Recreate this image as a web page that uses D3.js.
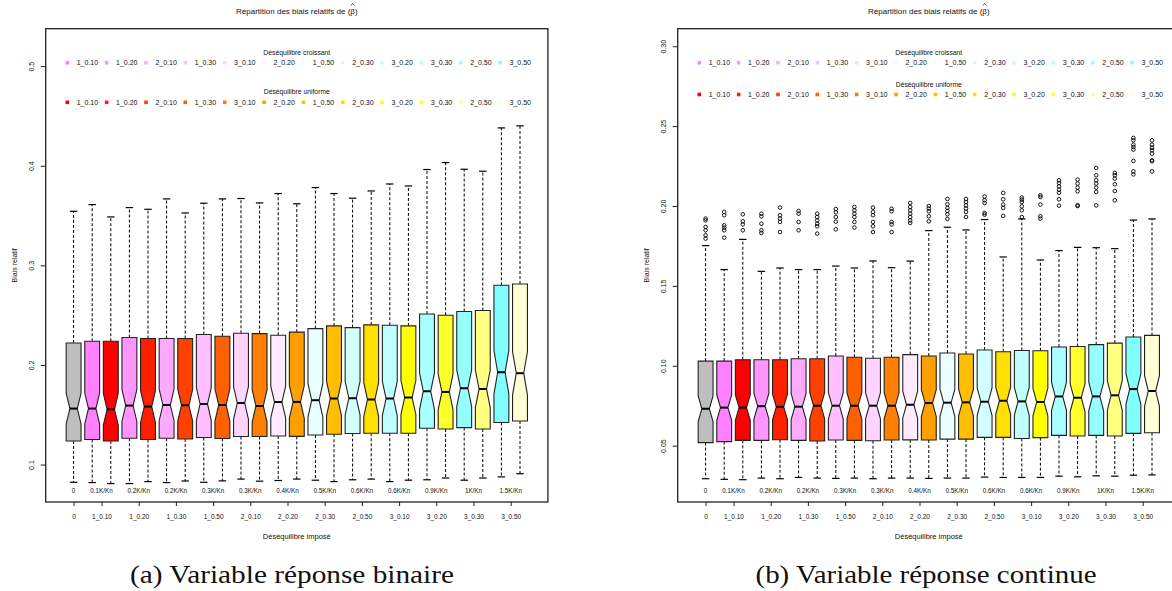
<!DOCTYPE html>
<html>
<head>
<meta charset="utf-8">
<script src="https://cdn.jsdelivr.net/npm/d3@7"></script>
<style>
  body { margin: 0; background: #fff; }
  svg text { font-family: "Liberation Sans", Arial, sans-serif; fill: #111; }
</style>
</head>
<body>
<svg id="chart" width="1172" height="591"></svg>
<script>
// Box colours: reference box, then (croissant, uniforme) pairs
var boxColors = ["#BEBEBE",
  "#FF80FF", "#FF0000", "#FF95FF", "#FF2000", "#FFAAFF", "#FF4000",
  "#FFBFFF", "#FF6000", "#FFD4FF", "#FF8000", "#FFEAFF", "#FF9F00",
  "#EAFFFF", "#FFBF00", "#D4FFFF", "#FFDF00", "#BFFFFF", "#FFFF00",
  "#AAFFFF", "#FFFF2A", "#95FFFF", "#FFFF80", "#80FFFF", "#FFFFD5"];

var legendLabels = ["1_0.10", "1_0.20", "2_0.10", "1_0.30", "3_0.10", "2_0.20",
  "1_0.50", "2_0.30", "3_0.20", "3_0.30", "2_0.50", "3_0.50"];
var legendCroissant = ["#FF80FF", "#FF95FF", "#FFAAFF", "#FFBFFF", "#FFD4FF", "#FFEAFF",
  "#EAFFFF", "#D4FFFF", "#BFFFFF", "#AAFFFF", "#95FFFF", "#80FFFF"];
var legendUniforme = ["#FF0000", "#FF2000", "#FF4000", "#FF6000", "#FF8000", "#FF9F00",
  "#FFBF00", "#FFDF00", "#FFFF00", "#FFFF2A", "#FFFF80", "#FFFFD5"];

var tickLabels = ["0", "1_0.10", "1_0.20", "1_0.30", "1_0.50", "2_0.10", "2_0.20",
  "2_0.30", "2_0.50", "3_0.10", "3_0.20", "3_0.30", "3_0.50"];
var ratioLabels = ["0", "0.1K/Kn", "0.2K/Kn", "0.2K/Kn", "0.3K/Kn", "0.3K/Kn", "0.4K/Kn",
  "0.5K/Kn", "0.6K/Kn", "0.6K/Kn", "0.9K/Kn", "1K/Kn", "1.5K/Kn"];

// (a) variable réponse binaire
var binLow = [0.0822, 0.0819, 0.0809, 0.0809, 0.0829, 0.0819, 0.0835, 0.0822, 0.0836, 0.0854, 0.0833, 0.0840, 0.0854,
  0.0843, 0.0829, 0.0847, 0.0854, 0.0829, 0.0843, 0.0847, 0.0865, 0.0843, 0.0865, 0.0876, 0.0908];
var binQ1 = [0.1237, 0.1251, 0.1237, 0.1264, 0.1251, 0.1264, 0.1257, 0.1271, 0.1261, 0.1281, 0.1281, 0.1287, 0.1283,
  0.1297, 0.1304, 0.1311, 0.1314, 0.1314, 0.1314, 0.1364, 0.1357, 0.1371, 0.1357, 0.1422, 0.1438];
var binMed = [0.1562, 0.1562, 0.1555, 0.1592, 0.1582, 0.1598, 0.1595, 0.1608, 0.1598, 0.1618, 0.1588, 0.1628, 0.1629,
  0.1646, 0.1663, 0.1666, 0.1653, 0.1663, 0.1673, 0.1736, 0.1729, 0.1766, 0.1759, 0.1927, 0.1917];
var binQ3 = [0.2221, 0.2238, 0.2238, 0.2275, 0.2265, 0.2265, 0.2265, 0.2305, 0.2288, 0.2318, 0.2315, 0.2298, 0.2330,
  0.2365, 0.2392, 0.2375, 0.2402, 0.2399, 0.2392, 0.2512, 0.2499, 0.2536, 0.2546, 0.2800, 0.2813];
var binHigh = [0.3543, 0.3610, 0.3486, 0.3580, 0.3563, 0.3667, 0.3526, 0.3624, 0.3667, 0.3671, 0.3627, 0.3721, 0.3618,
  0.3781, 0.3721, 0.3674, 0.3747, 0.3817, 0.3797, 0.3962, 0.4032, 0.3965, 0.3945, 0.4380, 0.4400];
var binOut = [];

// (b) variable réponse continue
var conLow = [0.0293, 0.0289, 0.0287, 0.0297, 0.0293, 0.0301, 0.0297, 0.0295, 0.0297, 0.0293, 0.0297, 0.0297, 0.0295,
  0.0297, 0.0297, 0.0303, 0.0301, 0.0301, 0.0301, 0.0309, 0.0305, 0.0311, 0.0309, 0.0315, 0.0317];
var conQ1 = [0.0519, 0.0525, 0.0533, 0.0533, 0.0537, 0.0533, 0.0529, 0.0535, 0.0533, 0.0531, 0.0535, 0.0536, 0.0535,
  0.0541, 0.0541, 0.0552, 0.0552, 0.0545, 0.0550, 0.0564, 0.0560, 0.0564, 0.0560, 0.0577, 0.0581];
var conMed = [0.0731, 0.0738, 0.0738, 0.0747, 0.0743, 0.0744, 0.0750, 0.0750, 0.0750, 0.0750, 0.0750, 0.0756, 0.0767,
  0.0769, 0.0771, 0.0775, 0.0781, 0.0777, 0.0773, 0.0808, 0.0800, 0.0808, 0.0815, 0.0854, 0.0842];
var conQ3 = [0.1029, 0.1029, 0.1038, 0.1038, 0.1038, 0.1044, 0.1044, 0.1061, 0.1053, 0.1047, 0.1053, 0.1070, 0.1061,
  0.1080, 0.1074, 0.1099, 0.1088, 0.1096, 0.1094, 0.1117, 0.1121, 0.1132, 0.1142, 0.1180, 0.1190];
var conHigh = [0.1752, 0.1602, 0.1791, 0.1591, 0.1612, 0.1602, 0.1602, 0.1624, 0.1612, 0.1656, 0.1614, 0.1655, 0.1846,
  0.1867, 0.1850, 0.1915, 0.1681, 0.1919, 0.1662, 0.1721, 0.1741, 0.1739, 0.1733, 0.1912, 0.1919];
var conOut = [
  [0.1921, 0.1910, 0.1869, 0.1848, 0.1817, 0.1796],
  [0.1963, 0.1942, 0.1879, 0.1865, 0.1848, 0.1802],
  [0.1948, 0.1904, 0.1885, 0.1848],
  [0.1952, 0.1935, 0.1889, 0.1848, 0.1831],
  [0.1990, 0.1942, 0.1921, 0.1900, 0.1837],
  [0.1969, 0.1952, 0.1900, 0.1848],
  [0.1952, 0.1931, 0.1910, 0.1889, 0.1873, 0.1827],
  [0.1981, 0.1961, 0.1931, 0.1902, 0.1854],
  [0.1994, 0.1973, 0.1952, 0.1931, 0.1900, 0.1865],
  [0.1990, 0.1963, 0.1942, 0.1900, 0.1873, 0.1837],
  [0.1983, 0.1967, 0.1900, 0.1885, 0.1837],
  [0.2019, 0.1994, 0.1973, 0.1952, 0.1931, 0.1910, 0.1894],
  [0.2000, 0.1984, 0.1967, 0.1936, 0.1904],
  [0.2044, 0.2011, 0.1988, 0.1969, 0.1948, 0.1919],
  [0.2044, 0.2025, 0.2004, 0.1984, 0.1963, 0.1931],
  [0.2059, 0.2036, 0.2019, 0.1956, 0.1946],
  [0.2082, 0.2042, 0.2009, 0.1988, 0.1938],
  [0.2053, 0.2040, 0.2025, 0.1998, 0.1973, 0.1931],
  [0.2067, 0.2056, 0.2009, 0.1936, 0.1921],
  [0.2161, 0.2144, 0.2123, 0.2102, 0.2083, 0.2042, 0.2002],
  [0.2165, 0.2140, 0.2115, 0.2092, 0.2005, 0.2000],
  [0.2238, 0.2192, 0.2161, 0.2140, 0.2115, 0.2088, 0.2004],
  [0.2207, 0.2192, 0.2171, 0.2136, 0.2094, 0.2036],
  [0.2426, 0.2411, 0.2384, 0.2369, 0.2353, 0.2282, 0.2217, 0.2198],
  [0.2411, 0.2384, 0.2365, 0.2349, 0.2328, 0.2286, 0.2280, 0.2217]
];

var binTicks = [0.1, 0.2, 0.3, 0.4, 0.5];
var conTicks = [0.05, 0.10, 0.15, 0.20, 0.25, 0.30];

var panels = [
  { left: 45.7, ylim: [0.08, 0.52], ticks: binTicks, fmt: d3.format(".1f"),
    low: binLow, q1: binQ1, med: binMed, q3: binQ3, high: binHigh, out: binOut,
    legendRows: [62.7, 102.3], caption: "(a) Variable réponse binaire", capX: 292, capW: 324 },
  { left: 677.7, ylim: [0.0257, 0.30], ticks: conTicks, fmt: d3.format(".2f"),
    low: conLow, q1: conQ1, med: conMed, q3: conQ3, high: conHigh, out: conOut,
    legendRows: [62.7, 94.5], caption: "(b) Variable réponse continue", capX: 926, capW: 341 }
];

var svg = d3.select("#chart");
var plotTop = 28.7, plotBottom = 502, plotWidth = 502.2;
var nObs = 100; // for notch width, as in R: 1.58 * IQR / sqrt(n)

panels.forEach(function(p) {
  var x = d3.scaleLinear().domain([-0.5, 26.5]).range([p.left, p.left + plotWidth]);
  var pad = (p.ylim[1] - p.ylim[0]) * 0.04;
  var y = d3.scaleLinear().domain([p.ylim[0] - pad, p.ylim[1] + pad]).range([plotBottom, plotTop]);
  var cx = p.left + plotWidth / 2;
  var hw = (x(1) - x(0)) * 0.4;
  var g = svg.append("g");

  var boxes = boxColors.map(function(c, i) {
    var iqr = p.q3[i] - p.q1[i];
    var nh = 1.58 * iqr / Math.sqrt(nObs);
    return { pos: i + 1, color: c, low: p.low[i], q1: p.q1[i], med: p.med[i], q3: p.q3[i],
      high: p.high[i], nl: p.med[i] - nh, nu: p.med[i] + nh, out: p.out[i] || [] };
  });

  var bg = g.selectAll(".box").data(boxes).enter().append("g");

  // whiskers (dashed)
  bg.append("line")
    .attr("x1", d => x(d.pos)).attr("x2", d => x(d.pos))
    .attr("y1", d => y(d.q3)).attr("y2", d => y(d.high))
    .attr("stroke", "#000").attr("stroke-width", 1).attr("stroke-dasharray", "3,2");
  bg.append("line")
    .attr("x1", d => x(d.pos)).attr("x2", d => x(d.pos))
    .attr("y1", d => y(d.q1)).attr("y2", d => y(d.low))
    .attr("stroke", "#000").attr("stroke-width", 1).attr("stroke-dasharray", "3,2");
  // staples
  [function(d) { return d.high; }, function(d) { return d.low; }].forEach(function(f) {
    bg.append("line")
      .attr("x1", d => x(d.pos) - hw * 0.5).attr("x2", d => x(d.pos) + hw * 0.5)
      .attr("y1", d => y(f(d))).attr("y2", d => y(f(d)))
      .attr("stroke", "#000").attr("stroke-width", 1.2);
  });

  // notched box
  bg.append("polygon")
    .attr("points", function(d) {
      var c = x(d.pos);
      return [[c - hw, y(d.q1)], [c + hw, y(d.q1)], [c + hw, y(d.nl)], [c + hw / 2, y(d.med)],
        [c + hw, y(d.nu)], [c + hw, y(d.q3)], [c - hw, y(d.q3)], [c - hw, y(d.nu)],
        [c - hw / 2, y(d.med)], [c - hw, y(d.nl)]].map(pt => pt.join(",")).join(" ");
    })
    .attr("fill", d => d.color).attr("stroke", "#222").attr("stroke-width", 1.1);

  // median
  bg.append("line")
    .attr("x1", d => x(d.pos) - hw / 2).attr("x2", d => x(d.pos) + hw / 2)
    .attr("y1", d => y(d.med)).attr("y2", d => y(d.med))
    .attr("stroke", "#000").attr("stroke-width", 2);

  // outliers
  bg.selectAll("circle").data(d => d.out.map(v => ({ pos: d.pos, v: v }))).enter()
    .append("circle")
    .attr("cx", d => x(d.pos)).attr("cy", d => y(d.v)).attr("r", 1.8)
    .attr("fill", "none").attr("stroke", "#000").attr("stroke-width", 0.9);

  // frame
  g.append("rect")
    .attr("x", x(-0.5)).attr("y", plotTop)
    .attr("width", plotWidth).attr("height", plotBottom - plotTop)
    .attr("fill", "none").attr("stroke", "#222").attr("stroke-width", 1.3);

  // y axis
  var yAxis = g.append("g").attr("transform", `translate(${p.left},0)`)
    .call(d3.axisLeft(y).tickValues(p.ticks).tickSize(5).tickFormat(p.fmt));
  yAxis.select(".domain").remove();
  yAxis.selectAll("line").attr("stroke", "#222");
  yAxis.selectAll("text")
    .attr("transform", "rotate(-90)")
    .attr("x", 0).attr("y", -14.5).attr("dy", "0.35em")
    .style("text-anchor", "middle").style("font-size", "7px")
    .style("font-family", "'Liberation Sans', Arial, sans-serif");

  // x axis (ticks at each pair)
  var tickPos = tickLabels.map((t, i) => i === 0 ? 1 : 2 * i + 0.5);
  var xAxis = g.append("g").attr("transform", `translate(0,${plotBottom})`)
    .call(d3.axisBottom(x).tickValues(tickPos).tickSize(4).tickFormat((d, i) => tickLabels[i]));
  xAxis.select(".domain").remove();
  xAxis.selectAll("line").attr("stroke", "#222");
  xAxis.selectAll("text")
    .attr("y", 15).attr("dy", "0.35em")
    .style("font-size", "6.5px")
    .style("font-family", "'Liberation Sans', Arial, sans-serif");

  // ratio labels inside the plot
  g.selectAll(".ratio").data(ratioLabels).enter().append("text")
    .attr("x", (d, i) => x(tickPos[i])).attr("y", 490)
    .attr("text-anchor", "middle").attr("dominant-baseline", "central")
    .style("font-size", "6.3px").text(d => d);

  // axis titles
  g.append("text").attr("x", cx).attr("y", 536)
    .attr("text-anchor", "middle").attr("dominant-baseline", "central")
    .style("font-size", "7.5px").text("Déséquilibre imposé");
  g.append("text")
    .attr("transform", `translate(${p.left - 31.5},${(plotTop + plotBottom) / 2}) rotate(-90)`)
    .attr("text-anchor", "middle").attr("dominant-baseline", "central")
    .style("font-size", "7px").text("Biais relatif");

  // title, with a small hat drawn over beta
  var titleText = "Répartition des biais relatifs de (β)";
  var title = g.append("text").attr("x", cx).attr("y", 14)
    .attr("text-anchor", "middle").style("font-size", "8px").text(titleText);
  var bi = titleText.indexOf("β");
  var s = title.node().getStartPositionOfChar(bi), e = title.node().getEndPositionOfChar(bi);
  var hx = (s.x + e.x) / 2;
  g.append("path")
    .attr("d", `M${hx - 1.8},5.6 L${hx},3.4 L${hx + 1.8},5.6`)
    .attr("fill", "none").attr("stroke", "#111").attr("stroke-width", 0.7);

  // legends
  [["Déséquilibre croissant", legendCroissant], ["Déséquilibre uniforme", legendUniforme]].forEach(function(lg, r) {
    var ry = p.legendRows[r];
    g.append("text").attr("x", cx).attr("y", ry - 10.5)
      .attr("text-anchor", "middle").attr("dominant-baseline", "central")
      .style("font-size", "6.8px").text(lg[0]);
    var items = g.selectAll(".leg" + r).data(legendLabels).enter().append("g")
      .attr("transform", (d, i) => `translate(${p.left + 21.6 + i * 39.35},${ry})`);
    items.append("rect").attr("x", -1.8).attr("y", -1.8).attr("width", 3.6).attr("height", 3.6)
      .attr("fill", (d, i) => lg[1][i]);
    items.append("text").attr("x", 9.4).attr("y", 0).attr("dominant-baseline", "central")
      .style("font-size", "7px").text(d => d);
  });

  // caption under the panel
  g.append("text").attr("x", p.capX).attr("y", 583)
    .attr("text-anchor", "middle")
    .attr("textLength", p.capW).attr("lengthAdjust", "spacingAndGlyphs")
    .style("font-family", "'Liberation Serif', 'Times New Roman', serif")
    .style("font-size", "25px").text(p.caption);
});
</script>
</body>
</html>
